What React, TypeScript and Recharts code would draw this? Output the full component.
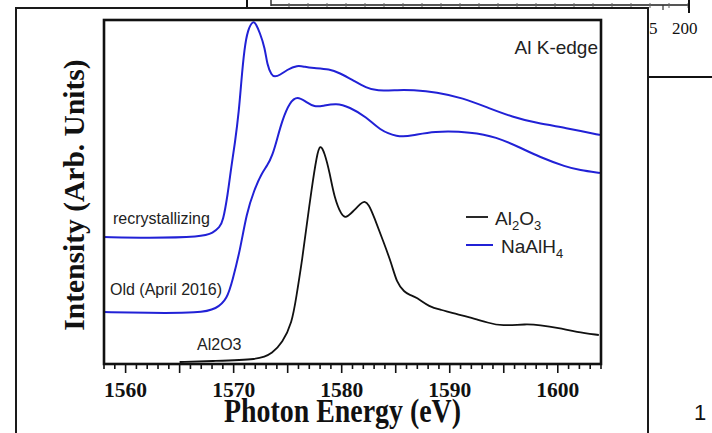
import React from 'react';
import { LineChart, Line, XAxis, YAxis } from 'recharts';

// photon energy (eV) / intensity (arb. units)
const recrysEnergy = [1558.0, 1562.0, 1567.1, 1568.1, 1568.7, 1569.0, 1569.45, 1569.8, 1570.1, 1570.5, 1570.7, 1571.0, 1571.3, 1571.8, 1572.1, 1572.4, 1572.9, 1573.1, 1573.5, 1573.8, 1574.3, 1574.9, 1575.9, 1576.6, 1577.3, 1578.9, 1579.8, 1581.0, 1582.3, 1583.2, 1585.3, 1586.5, 1588.8, 1591.2, 1593.6, 1595.8, 1598.0, 1600.8, 1603.5, 1603.9];
const recrysIntensity = [127, 126, 127, 131, 137, 142, 169, 199, 219, 254, 282, 316, 334, 344, 339, 332, 316, 299, 289, 287, 289, 294, 299, 297, 296, 295, 291, 284, 276, 273, 274, 274, 272, 266, 256, 247, 241, 236, 230, 229];

const oldEnergy = [1558.0, 1562.0, 1566.9, 1568.4, 1569.4, 1569.9, 1570.6, 1571.2, 1571.9, 1572.6, 1573.1, 1573.6, 1574.0, 1574.5, 1575.2, 1575.9, 1576.7, 1577.5, 1578.2, 1579.5, 1580.7, 1582.3, 1583.5, 1585.1, 1586.5, 1588.4, 1592.1, 1594.3, 1596.4, 1598.3, 1600.8, 1602.0, 1603.9];
const oldIntensity = [52, 51, 51, 55, 65, 84, 114, 151, 174, 191, 198, 209, 224, 244, 262, 268, 262, 257, 258, 261, 257, 247, 234, 227, 228, 233, 232, 227, 217, 207, 197, 194, 191];

const al2o3Energy = [1565.0, 1567.8, 1572.4, 1573.6, 1574.5, 1575.4, 1575.8, 1576.3, 1576.7, 1577.2, 1577.7, 1578.0, 1578.4, 1578.9, 1579.3, 1580.0, 1580.4, 1581.0, 1581.8, 1582.1, 1582.5, 1583.0, 1583.8, 1584.6, 1585.1, 1585.8, 1586.3, 1586.9, 1588.1, 1589.3, 1590.2, 1591.8, 1593.6, 1594.8, 1597.1, 1598.3, 1600.1, 1601.7, 1603.8];
const al2o3Intensity = [2, 3, 4, 11, 21, 41, 67, 101, 134, 174, 209, 220, 212, 191, 167, 148, 146, 152, 161, 163, 160, 147, 124, 101, 81, 72, 69, 67, 57, 54, 51, 47, 41, 38, 40, 39, 36, 32, 29];

const xDomain = [1558, 1604];
const yDomain = [0, 344];
const labelTicks = [1560, 1570, 1580, 1590, 1600];
const allTicks = Array.from({ length: xDomain[1] - xDomain[0] + 1 }, (_, i) => xDomain[0] + i);

const toRows = (es: number[], is: number[]) => es.map((e, i) => ({ e, i: is[i] }));
const recrysData = toRows(recrysEnergy, recrysIntensity);
const oldData = toRows(oldEnergy, oldIntensity);
const al2o3Data = toRows(al2o3Energy, al2o3Intensity);

const W = 712;
const H = 433;
const margin = { top: 20, right: 111, left: 104, bottom: 39 };
const axisH = 30;

const BLUE = '#2121d6';
const serif = '"Liberation Serif", "Times New Roman", serif';
const sans = '"Liberation Sans", Arial, sans-serif';

const EnergyTick = (props: any) => {
  const { x, y, payload } = props;
  const v = payload.value;
  const len = v % 5 === 0 ? 9 : 5;
  return (
    <g>
      <line x1={x} x2={x} y1={y} y2={y + len} stroke="#111" strokeWidth={1.6} />
      {labelTicks.includes(v) && (
        <text x={x} y={y + 33} textAnchor="middle" fontFamily={serif} fontWeight="bold" fontSize={21.5} fill="#111">
          {v}
        </text>
      )}
    </g>
  );
};

export default function App() {
  const plotL = margin.left;
  const plotT = margin.top;
  const plotW = W - margin.left - margin.right;
  const plotH = H - margin.top - margin.bottom - axisH;
  return (
    <div style={{ position: 'absolute', left: 0, top: 0, width: W, height: H, background: '#fff', overflow: 'hidden' }}>
      {/* bits of the neighbouring figures in the screenshot */}
      <svg width={W} height={H} style={{ position: 'absolute', left: 0, top: 0 }}>
        <line x1={247} x2={247} y1={0} y2={8} stroke="#111" strokeWidth={2} />
        <line x1={271} x2={689} y1={5} y2={5} stroke="#555" strokeWidth={2} />
        <line x1={271} x2={271} y1={0} y2={6} stroke="#333" strokeWidth={1.5} />
        {Array.from({ length: 22 }, (_, k) => 289 + k * 19).map((tx) => (
          <line key={tx} x1={tx} x2={tx} y1={3} y2={8} stroke="#666" strokeWidth={1} />
        ))}
        <line x1={689} x2={689} y1={0} y2={13} stroke="#111" strokeWidth={2} />
        <line x1={663} x2={663} y1={5} y2={10} stroke="#333" strokeWidth={1.2} />
        <text x={649} y={34} fontFamily={serif} fontSize={17} fill="#111">5</text>
        <text x={672} y={34} fontFamily={serif} fontSize={17} fill="#111">200</text>
        <line x1={648} x2={712} y1={77} y2={77} stroke="#111" strokeWidth={1.8} />
        <rect x={16} y={8} width={632} height={440} fill="#fff" stroke="#1a1a1a" strokeWidth={2} />
        <text x={694} y={420} fontFamily={sans} fontSize={22} fill="#111">1</text>
      </svg>

      <div style={{ position: 'absolute', left: 0, top: 0 }}>
        <LineChart width={W} height={H} data={recrysData} margin={margin}>
          <XAxis
            dataKey="e"
            type="number"
            domain={xDomain}
            ticks={allTicks}
            interval={0}
            height={axisH}
            allowDataOverflow
            axisLine={false}
            tickLine={false}
            tickSize={0}
            tickMargin={0}
            tick={<EnergyTick />}
          />
          <YAxis hide type="number" domain={yDomain} allowDataOverflow />
          <Line data={recrysData} dataKey="i" type="basis" stroke={BLUE} strokeWidth={2} dot={false} isAnimationActive={false} />
          <Line data={oldData} dataKey="i" type="basis" stroke={BLUE} strokeWidth={2} dot={false} isAnimationActive={false} />
          <Line data={al2o3Data} dataKey="i" type="basis" stroke="#111" strokeWidth={1.8} dot={false} isAnimationActive={false} />
        </LineChart>
      </div>

      <svg width={W} height={H} style={{ position: 'absolute', left: 0, top: 0, pointerEvents: 'none' }}>
        <rect x={plotL} y={plotT} width={plotW} height={plotH} fill="none" stroke="#111" strokeWidth={2.6} />
        <text x={598} y={54} textAnchor="end" fontFamily={sans} fontSize={19} fill="#222">Al K-edge</text>
        <text x={113} y={224} fontFamily={sans} fontSize={16} fill="#222">recrystallizing</text>
        <text x={110} y={295} fontFamily={sans} fontSize={16} fill="#222">Old (April 2016)</text>
        <text x={197} y={350} fontFamily={sans} fontSize={16} fill="#222">Al2O3</text>

        <line x1={466} x2={488} y1={217} y2={217} stroke="#111" strokeWidth={1.8} />
        <text x={495} y={225} fontFamily={sans} fontSize={19} fill="#222">
          Al<tspan fontSize={13} dy={5}>2</tspan><tspan dy={-5}>O</tspan><tspan fontSize={13} dy={5}>3</tspan>
        </text>
        <line x1={466} x2={493} y1={245} y2={245} stroke={BLUE} strokeWidth={2} />
        <text x={501} y={253} fontFamily={sans} fontSize={19} fill="#222">
          NaAlH<tspan fontSize={13} dy={5}>4</tspan>
        </text>

        <text x={83.5} y={195} transform="rotate(-90 83.5 195)" textAnchor="middle" fontFamily={serif} fontWeight="bold" fontSize={29.5} fill="#111">
          Intensity (Arb. Units)
        </text>
        <text x={224} y={422} textLength={237} lengthAdjust="spacingAndGlyphs" fontFamily={serif} fontWeight="bold" fontSize={33} fill="#111">
          Photon Energy (eV)
        </text>
      </svg>
    </div>
  );
}
